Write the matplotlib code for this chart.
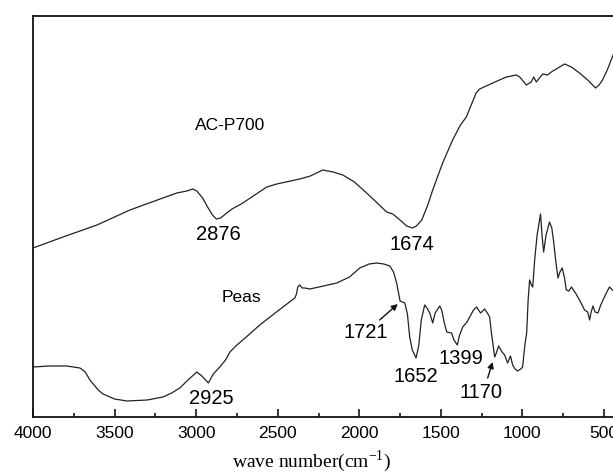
import matplotlib
matplotlib.use("Agg")
import matplotlib.pyplot as plt

# FTIR spectra (transmittance, arbitrary offset units)
ac_wn = [4000, 3816, 3608, 3406, 3204, 3118, 3057, 3020, 2996, 2960, 2930, 2900,
         2876, 2850, 2820, 2780, 2714, 2650, 2567, 2506, 2450, 2365, 2300, 2224,
         2160, 2101, 2030, 1955, 1890, 1832, 1795, 1750, 1710, 1674, 1650, 1617,
         1580, 1550, 1489, 1428, 1380, 1344, 1284, 1262, 1182, 1099, 1037, 1017,
         976, 946, 931, 915, 876, 846, 823, 742, 700, 650, 600, 552, 530, 509,
         480, 449, 400]
ac_t = [169, 180, 192, 207, 219, 224, 226, 228, 226, 219, 210, 202,
        198, 199, 203, 208, 214, 221, 230, 233, 235, 238, 241, 247,
        245, 242, 235, 224, 214, 205, 203, 197, 191, 189, 191, 197,
        212, 227, 254, 277, 292, 300, 324, 328, 334, 340, 342, 340,
        332, 335, 340, 335, 343, 342, 345, 353, 350, 344, 337, 329, 332, 337,
        347, 360, 377]

peas_wn = [4000, 3900, 3792, 3712, 3680, 3651, 3600, 3571, 3500, 3424, 3300, 3204,
           3150, 3100, 3050, 2996, 2965, 2925, 2895, 2855, 2820, 2793, 2750, 2700,
           2610, 2500, 2395, 2385, 2377, 2365, 2350, 2334, 2303, 2220, 2138, 2060,
           1997, 1940, 1893, 1850, 1813, 1790, 1771, 1750, 1721, 1705, 1691, 1675,
           1652, 1635, 1620, 1599, 1585, 1568, 1550, 1535, 1507, 1495, 1480, 1464,
           1434, 1420, 1399, 1385, 1366, 1340, 1323, 1300, 1281, 1265, 1256, 1232,
           1215, 1201, 1190, 1170, 1160, 1146, 1125, 1109, 1091, 1073, 1060, 1045,
           1030, 1010, 999, 985, 974, 965, 956, 945, 937, 925, 910, 889, 880, 870,
           855, 834, 820, 810, 795, 782, 770, 756, 742, 731, 715, 699, 675, 650,
           619, 600, 588, 580, 568, 555, 537, 520, 497, 480, 466, 449, 400]
peas_t = [50, 51, 51, 49, 45, 37, 27, 23, 18, 16, 17, 20,
          24, 29, 37, 45, 41, 34, 43, 50, 57, 65, 72, 79,
          92, 106, 119, 123, 130, 132, 129, 129, 128, 131, 134, 140,
          149, 153, 154, 153, 151, 145, 134, 116, 114, 103, 80, 67,
          59, 72, 97, 112, 109, 104, 94, 104, 111, 107, 95, 85,
          84, 77, 72, 82, 90, 95, 100, 107, 110, 106, 104, 108,
          104, 100, 84, 60, 64, 71, 65, 62, 54, 61, 52, 48,
          46, 48, 50, 72, 84, 117, 137, 132, 130, 157, 182, 203, 182, 165,
          182, 195, 189, 177, 155, 139, 145, 149, 139, 127, 126, 130, 124, 117,
          107, 105, 97, 104, 111, 105, 104, 112, 120, 126, 130, 127, 122]

tick_values = [4000, 3500, 3000, 2500, 2000, 1500, 1000, 500]
minor_values = [3750, 3250, 2750, 2250, 1750, 1250, 750]

# annotation texts and their placements (x, y in data units)
sample_labels = ["AC-P700", "Peas"]
sample_label_xy = [(2793, 292), (2720, 119)]
peak_labels = ["2876", "1674", "2925", "1652", "1399"]
peak_label_xy = [(2861, 183), (1679, 172), (2910, 18), (1654, 41), (1379, 59)]
arrow_labels = ["1721", "1170"]
arrow_text_xy = [(1960, 85), (1256, 25)]
arrow_tail_xy = [(1875, 97), (1213, 39)]
arrow_head_xy = [(1764, 113), (1183, 55)]

plt.rcParams["font.family"] = ["Liberation Sans", "DejaVu Sans"]
plt.rcParams["mathtext.fontset"] = "custom"
plt.rcParams["mathtext.rm"] = "Liberation Serif"

W, H = 613, 476
fig = plt.figure(figsize=(W / 100, H / 100), dpi=100)
left_px, top_px, bottom_px = 33, 16, 417
x_max, x_min = 4000, 400
px_per_wn = (604 - 33) / 3500.0
right_px = left_px + (x_max - x_min) * px_per_wn
ax = fig.add_axes([left_px / W, 1 - bottom_px / H,
                   (right_px - left_px) / W, (bottom_px - top_px) / H])

line_kw = dict(color="#222222", lw=0.9)
ax.plot(ac_wn, ac_t, **line_kw)
ax.plot(peas_wn, peas_t, **line_kw)

ax.set_xticks(tick_values)
ax.set_xticks(minor_values, minor=True)
ax.set_yticks([])
ax.set_xlim(x_max, x_min)
ax.set_ylim(0, 401)
ax.tick_params(axis="x", which="major", direction="in", length=6, width=1.1,
               labelsize=12.5, pad=6.5)
ax.tick_params(axis="x", which="minor", direction="in", length=3, width=1.1)
for s in ax.spines.values():
    s.set_linewidth(1.3)
    s.set_color("#111111")

for txt, (x, y) in zip(sample_labels, sample_label_xy):
    ax.text(x, y, txt, ha="center", va="center", fontsize=12.5)
for txt, (x, y) in zip(peak_labels, peak_label_xy):
    ax.text(x, y, txt, ha="center", va="center", fontsize=14.5)
for txt, (x, y), tail, head in zip(arrow_labels, arrow_text_xy,
                                   arrow_tail_xy, arrow_head_xy):
    ax.text(x, y, txt, ha="center", va="center", fontsize=14.5)
    ax.annotate("", xy=head, xytext=tail,
                arrowprops=dict(arrowstyle="-|>", color="#111111", lw=1.0,
                                mutation_scale=9, shrinkA=0, shrinkB=0))

fig.text(311 / W, 1 - 467 / H, r"wave number(cm$^{\mathrm{-1}}$)",
         ha="center", va="baseline", fontsize=14, family="Liberation Serif")

fig.savefig("out.png", dpi=100)
